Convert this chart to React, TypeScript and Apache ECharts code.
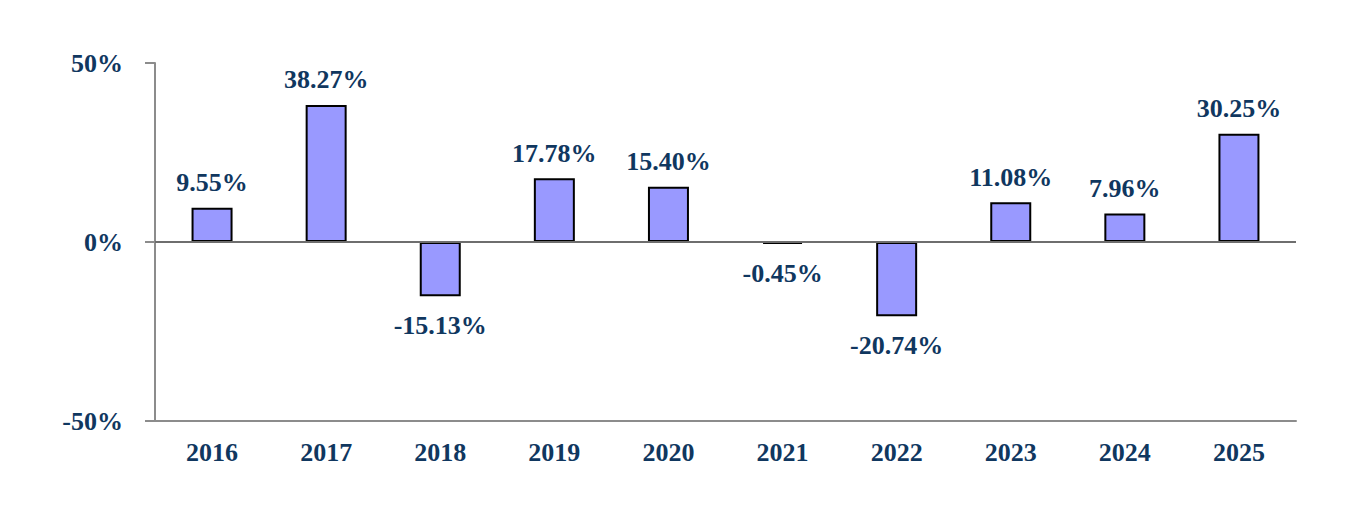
import React, { useEffect, useRef } from "react";
import * as echarts from "echarts";

const years = ["2016", "2017", "2018", "2019", "2020", "2021", "2022", "2023", "2024", "2025"];
const returns = [9.55, 38.27, -15.13, 17.78, 15.4, -0.45, -20.74, 11.08, 7.96, 30.25];
const labelColor = "#10375f";

export default function App() {
  const ref = useRef<HTMLDivElement>(null);
  useEffect(() => {
    if (!ref.current) return;
    const chart = echarts.init(ref.current, null, { renderer: "svg" });
    const font = { fontFamily: "Liberation Serif", fontWeight: "bold" as const, fontSize: 26, color: labelColor };
    chart.setOption({
      animation: false,
      grid: { left: 147, right: 56, top: 55, bottom: 103 },
      xAxis: {
        type: "category",
        data: years,
        axisLine: { onZero: false, lineStyle: { color: "#8c8c8c", width: 2 } },
        axisTick: { show: false },
        axisLabel: { ...font, margin: 18 },
      },
      yAxis: {
        type: "value",
        min: -50,
        max: 50,
        interval: 50,
        axisLine: { show: true, lineStyle: { color: "#8c8c8c", width: 2 } },
        axisTick: { show: true, length: 10, lineStyle: { color: "#8c8c8c", width: 2 } },
        splitLine: { show: false },
        axisLabel: { ...font, margin: 32, formatter: (v: number) => `${v}%` },
      },
      series: [
        {
          type: "bar",
          data: returns.map((v) => ({
            value: v,
            label: v >= 0 ? { position: "top", distance: 12 } : { position: "bottom", distance: 16 },
          })),
          barWidth: 41,
          barMinHeight: 2,
          itemStyle: { color: "#9999ff", borderColor: "#000", borderWidth: 2 },
          label: {
            show: true,
            ...font,
            formatter: (p: any) => `${p.value.toFixed(2)}%`,
          },
          markLine: {
            silent: true,
            symbol: "none",
            label: { show: false },
            lineStyle: { color: "#6e6e6e", width: 2, type: "solid" },
            data: [{ yAxis: 0 }],
          },
        },
      ],
    });
    return () => chart.dispose();
  }, []);
  return <div ref={ref} style={{ width: 1344, height: 516 }} />;
}
